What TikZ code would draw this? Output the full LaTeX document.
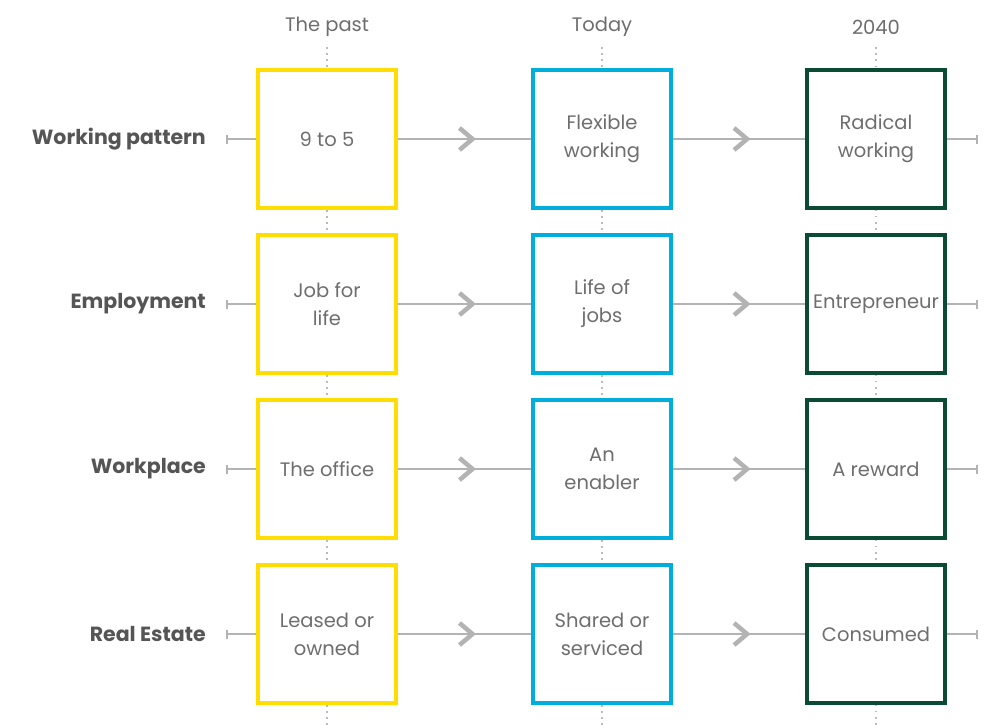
\documentclass[tikz,border=0pt]{standalone}
\usepackage{fontspec}
\setmainfont{Poppins}
\usetikzlibrary{arrows.meta,decorations.markings}
\definecolor{cyel}{HTML}{FFDD00}
\definecolor{cblu}{HTML}{00AEDB}
\definecolor{cgrn}{HTML}{0B4A33}
\definecolor{ctxt}{HTML}{6E6E6E}
\definecolor{clab}{HTML}{555555}
\definecolor{cline}{HTML}{B3B3B3}
\definecolor{cdot}{HTML}{BBBBBB}
\begin{document}
\begin{tikzpicture}[x=1pt,y=-1pt,
  box/.style={draw, line width=4pt, minimum size=138pt, inner sep=0pt, align=center,
    text=ctxt, font=\fontsize{19.5}{28}\selectfont},
  ybox/.style={box, draw=cyel},
  bbox/.style={box, draw=cblu},
  gbox/.style={box, draw=cgrn, line width=3.5pt},
  head/.style={text=ctxt, font=\fontsize{19.5}{24}\selectfont},
  rowlab/.style={anchor=east, inner sep=0pt, text=clab, font=\fontsize{20.5}{24}\selectfont\bfseries},
  dotline/.style={draw=cdot, line width=1.6pt, dash pattern=on 1.6pt off 4.5pt},
  hline/.style={draw=cline, line width=1.8pt},
  endtick/.style={hline, -{Bar[width=9pt,line width=1.5pt]}},
  chev/.style={hline, postaction={decorate}, decoration={markings,
    mark=at position 0.56 with {\draw[cline, line width=4.5pt] (-13,-11) -- (0,0) -- (-13,11);}}}
]
\useasboundingbox[fill=white] (0,0) rectangle (986,724);

% headers
\node[head] (h1) at (327,27) {The past};
\node[head] (h2) at (602,27) {Today};
\node[head] (h3) at (876,27) {2040};

% boxes
\node[ybox] (a1) at (327,139) {9 to 5};
\node[bbox] (b1) at (602,139) {Flexible\\working};
\node[gbox] (c1) at (876,139) {Radical\\working};
\node[ybox] (a2) at (327,304) {Job for\\life};
\node[bbox] (b2) at (602,304) {Life of\\jobs};
\node[gbox] (c2) at (876,304) {Entrepreneur};
\node[ybox] (a3) at (327,469) {The office};
\node[bbox] (b3) at (602,469) {An\\enabler};
\node[gbox] (c3) at (876,469) {A reward};
\node[ybox] (a4) at (327,634) {Leased or\\owned};
\node[bbox] (b4) at (602,634) {Shared or\\serviced};
\node[gbox] (c4) at (876,634) {Consumed};

% row labels
\node[rowlab] (r1) at (206,139) {Working pattern};
\node[rowlab] (r2) at (206,304) {Employment};
\node[rowlab] (r3) at (206,469) {Workplace};
\node[rowlab] (r4) at (206,634) {Real Estate};

% dotted column lines
\foreach \c/\h in {a/h1,b/h2,c/h3}{
  \coordinate (\c top) at ([yshift=21pt]\c1.north);
  \coordinate (\c bot) at ([yshift=-22pt]\c4.south);
  \draw[dotline] (\c top) -- (\c1.north);
  \draw[dotline] (\c1.south) -- (\c2.north);
  \draw[dotline] (\c2.south) -- (\c3.north);
  \draw[dotline] (\c3.south) -- (\c4.north);
  \draw[dotline] (\c4.south) -- (\c bot);
}

% horizontal lines
\foreach \i in {1,2,3,4}{
  \coordinate (l\i) at ([xshift=-30pt]a\i.west);
  \coordinate (e\i) at ([xshift=31pt]c\i.east);
  \draw[endtick] (a\i.west) -- (l\i);
  \draw[chev] (a\i.east) -- (b\i.west);
  \draw[chev] (b\i.east) -- (c\i.west);
  \draw[endtick] (c\i.east) -- (e\i);
}
\end{tikzpicture}
\end{document}
